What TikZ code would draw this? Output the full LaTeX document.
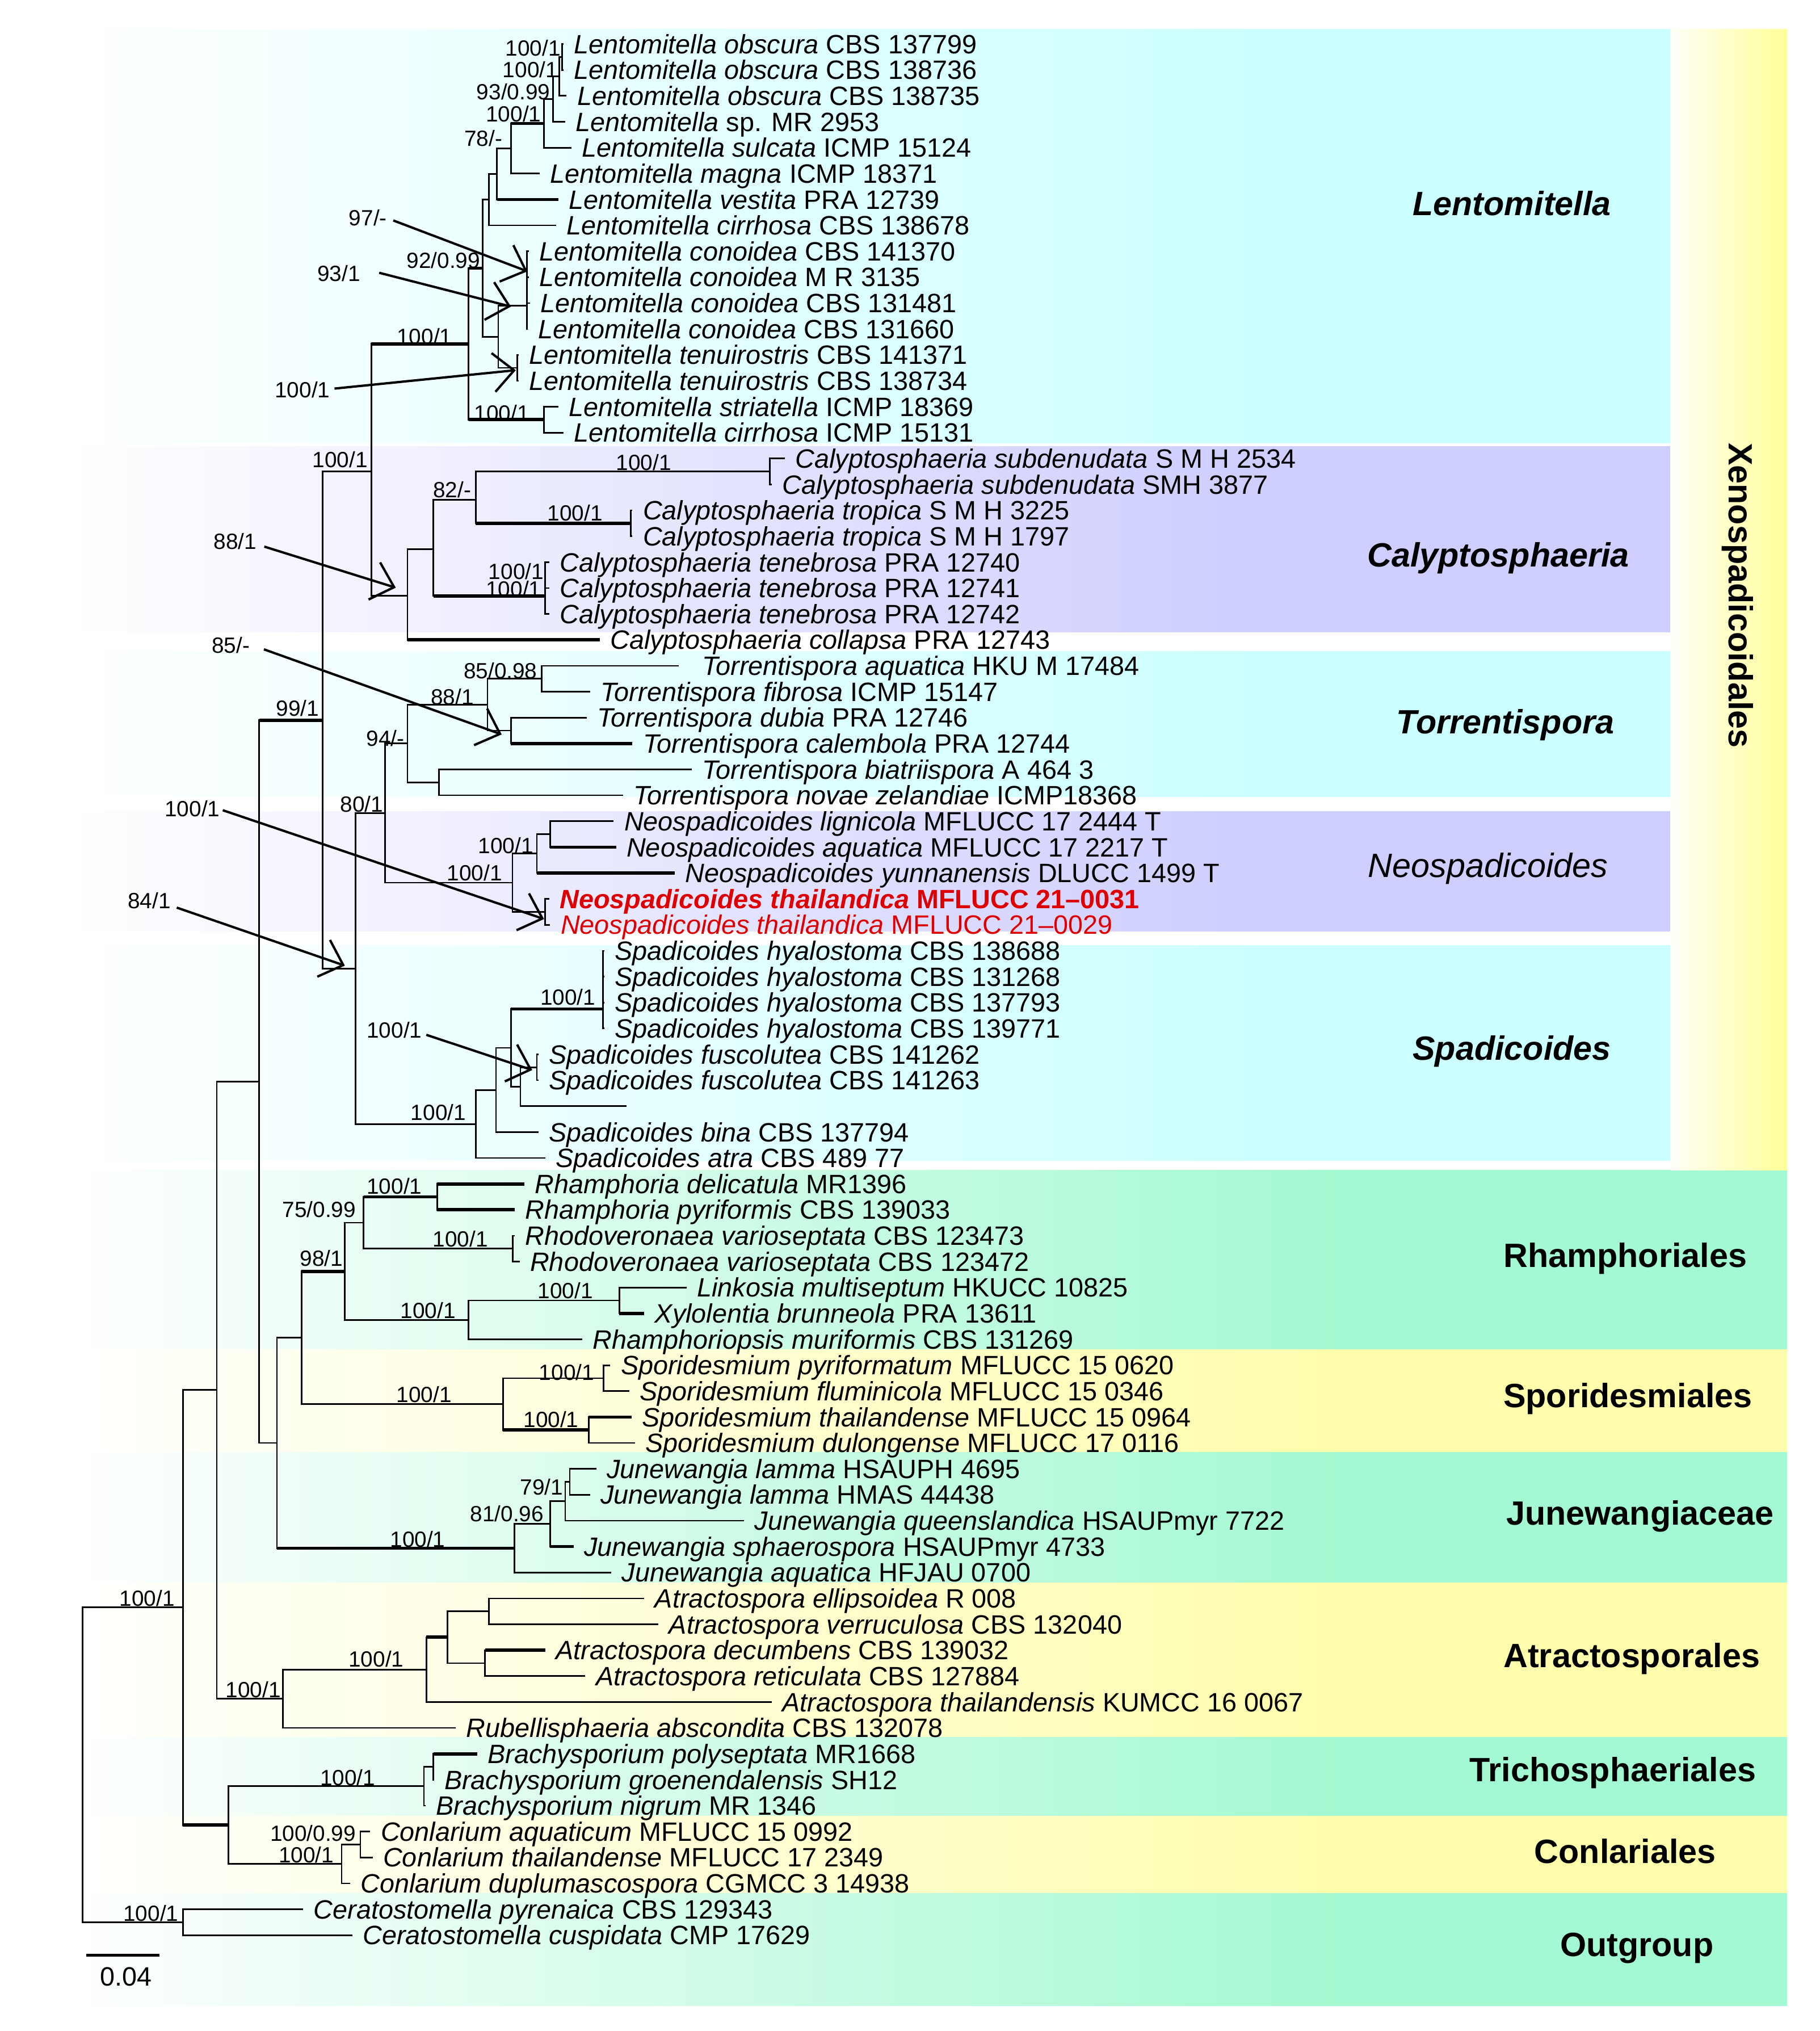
\documentclass[tikz,border=0pt]{standalone}
\usepackage{fontspec}
\setmainfont{Liberation Sans}
\usetikzlibrary{arrows.meta}
\definecolor{cyanb}{RGB}{204,255,255}
\definecolor{lavb}{RGB}{206,206,255}
\definecolor{greenb}{RGB}{163,249,209}
\definecolor{yelb}{RGB}{255,253,172}
\definecolor{xenob}{RGB}{255,255,153}
\definecolor{xenol}{RGB}{255,255,248}
\definecolor{redt}{RGB}{222,0,0}
\pgfdeclarehorizontalshading{cyansh}{100bp}{color(0bp)=(white); color(25bp)=(white); color(62bp)=(cyanb); color(100bp)=(cyanb)}
\pgfdeclarehorizontalshading{lavsh}{100bp}{color(0bp)=(white); color(25bp)=(white); color(62bp)=(lavb); color(100bp)=(lavb)}
\pgfdeclarehorizontalshading{greensh}{100bp}{color(0bp)=(white); color(25bp)=(white); color(62bp)=(greenb); color(100bp)=(greenb)}
\pgfdeclarehorizontalshading{yelsh}{100bp}{color(0bp)=(white); color(25bp)=(white); color(62bp)=(yelb); color(100bp)=(yelb)}
\newcommand{\bgband}[4]{\shade[shading=#4] (52,#1) rectangle (#3,#2);}
\begin{document}
\begin{tikzpicture}[x=1pt,y=-1pt,
  br/.style={line width=1.2pt},
  thk/.style={line width=2.5pt},
  taxon/.style={anchor=west, inner xsep=8pt, inner ysep=0pt, text height=15pt, text depth=0.4pt, font=\fontsize{20.5}{24}\selectfont},
  sup/.style={anchor=east, inner sep=0pt, text height=12pt, text depth=0pt, font=\fontsize{17}{20}\selectfont},
  clade/.style={inner sep=0pt, text height=19pt, text depth=0pt, font=\fontsize{26}{30}\selectfont\bfseries\itshape},
  cladeit/.style={inner sep=0pt, text height=19pt, text depth=0pt, font=\fontsize{26}{30}\selectfont\itshape},
  order/.style={inner sep=0pt, text height=19pt, text depth=0pt, font=\fontsize{26}{30}\selectfont\bfseries},
  arr/.style={line width=1.8pt, -{Straight Barb[length=16pt,width=30pt]}}
]
\useasboundingbox (0,0) rectangle (1405,1568);
\fill[white] (0,0) rectangle (1405,1568);
% ---------- background bands ----------
\bgband{22.7}{342}{1290}{cyansh}
\bgband{344.7}{488}{1290}{lavsh}
\bgband{503}{615}{1290}{cyansh}
\bgband{626.5}{718.7}{1290}{lavsh}
\bgband{730}{896}{1290}{cyansh}
\bgband{903.5}{1041.7}{1380}{greensh}
\bgband{1041.7}{1121}{1380}{yelsh}
\bgband{1121}{1222}{1380}{greensh}
\bgband{1222}{1341}{1380}{yelsh}
\bgband{1341}{1402}{1380}{greensh}
\bgband{1402}{1461.6}{1380}{yelsh}
\bgband{1461.6}{1548.5}{1380}{greensh}
\fill[left color=xenol, right color=xenob] (1290,22.7) rectangle (1380,903.5);

% ---------- taxa ----------
\node[taxon] (t1) at (435,34) {\textit{Lentomitella obscura} CBS 137799};
\node[taxon] (t2) at (435,54) {\textit{Lentomitella obscura} CBS 138736};
\node[taxon] (t3) at (437.5,74) {\textit{Lentomitella obscura} CBS 138735};
\node[taxon] (t4) at (436.4,94) {\textit{Lentomitella} sp. MR 2953};
\node[taxon] (t5) at (441.1,114) {\textit{Lentomitella sulcata} ICMP 15124};
\node[taxon] (t6) at (416.8,134) {\textit{Lentomitella magna} ICMP 18371};
\node[taxon] (t7) at (431.3,154) {\textit{Lentomitella vestita} PRA 12739};
\node[taxon] (t8) at (429.5,174) {\textit{Lentomitella cirrhosa} CBS 138678};
\node[taxon] (t9) at (408.4,194) {\textit{Lentomitella conoidea} CBS 141370};
\node[taxon] (t10) at (408.4,214) {\textit{Lentomitella conoidea} M R 3135};
\node[taxon] (t11) at (409.2,234) {\textit{Lentomitella conoidea} CBS 131481};
\node[taxon] (t12) at (407.3,254) {\textit{Lentomitella conoidea} CBS 131660};
\node[taxon] (t13) at (400.4,274) {\textit{Lentomitella tenuirostris} CBS 141371};
\node[taxon] (t14) at (400.4,294) {\textit{Lentomitella tenuirostris} CBS 138734};
\node[taxon] (t15) at (431.3,314) {\textit{Lentomitella striatella} ICMP 18369};
\node[taxon] (t16) at (435,334) {\textit{Lentomitella cirrhosa} ICMP 15131};
\node[taxon] (t17) at (606,354) {\textit{Calyptosphaeria subdenudata} S M H 2534};
\node[taxon] (t18) at (596,374) {\textit{Calyptosphaeria subdenudata} SMH 3877};
\node[taxon] (t19) at (488.4,394) {\textit{Calyptosphaeria tropica} S M H 3225};
\node[taxon] (t20) at (488.4,414) {\textit{Calyptosphaeria tropica} S M H 1797};
\node[taxon] (t21) at (424.1,434) {\textit{Calyptosphaeria tenebrosa} PRA 12740};
\node[taxon] (t22) at (424.1,454) {\textit{Calyptosphaeria tenebrosa} PRA 12741};
\node[taxon] (t23) at (424.1,474) {\textit{Calyptosphaeria tenebrosa} PRA 12742};
\node[taxon] (t24) at (463,494) {\textit{Calyptosphaeria collapsa} PRA 12743};
\node[taxon, inner xsep=18pt] (t25) at (524,514) {\textit{Torrentispora aquatica} HKU M 17484};
\node[taxon] (t26) at (455.7,534) {\textit{Torrentispora fibrosa} ICMP 15147};
\node[taxon] (t27) at (453,554) {\textit{Torrentispora dubia} PRA 12746};
\node[taxon] (t28) at (488.4,574) {\textit{Torrentispora calembola} PRA 12744};
\node[taxon] (t29) at (534,594) {\textit{Torrentispora biatriispora} A 464 3};
\node[taxon] (t30) at (481,614) {\textit{Torrentispora novae zelandiae} ICMP18368};
\node[taxon] (t31) at (473.9,634) {\textit{Neospadicoides lignicola} MFLUCC 17 2444 T};
\node[taxon] (t32) at (475.7,654) {\textit{Neospadicoides aquatica} MFLUCC 17 2217 T};
\node[taxon] (t33) at (521,674) {\textit{Neospadicoides yunnanensis} DLUCC 1499 T};
\node[taxon, text=redt] (t34) at (424,694) {\textbf{\textit{Neospadicoides thailandica} MFLUCC 21–0031}};
\node[taxon, text=redt] (t35) at (424.8,714) {\textit{Neospadicoides thailandica} MFLUCC 21–0029};
\node[taxon] (t36) at (466.6,734) {\textit{Spadicoides hyalostoma} CBS 138688};
\node[taxon] (t37) at (466.6,754) {\textit{Spadicoides hyalostoma} CBS 131268};
\node[taxon] (t38) at (466.6,774) {\textit{Spadicoides hyalostoma} CBS 137793};
\node[taxon] (t39) at (466.6,794) {\textit{Spadicoides hyalostoma} CBS 139771};
\node[taxon] (t40) at (415.7,814) {\textit{Spadicoides fuscolutea} CBS 141262};
\node[taxon] (t41) at (415.7,834) {\textit{Spadicoides fuscolutea} CBS 141263};
\node[taxon] (t42) at (483.7,854) {};
\node[taxon] (t43) at (415.7,874) {\textit{Spadicoides bina} CBS 137794};
\node[taxon] (t44) at (421,894) {\textit{Spadicoides atra} CBS 489 77};
\node[taxon] (t45) at (404.8,914) {\textit{Rhamphoria delicatula} MR1396};
\node[taxon] (t46) at (397.5,934) {\textit{Rhamphoria pyriformis} CBS 139033};
\node[taxon] (t47) at (397.5,954) {\textit{Rhodoveronaea varioseptata} CBS 123473};
\node[taxon] (t48) at (401.2,974) {\textit{Rhodoveronaea varioseptata} CBS 123472};
\node[taxon] (t49) at (530.2,994) {\textit{Linkosia multiseptum} HKUCC 10825};
\node[taxon] (t50) at (497.5,1014) {\textit{Xylolentia brunneola} PRA 13611};
\node[taxon] (t51) at (449.5,1034) {\textit{Rhamphoriopsis muriformis} CBS 131269};
\node[taxon] (t52) at (471.3,1054) {\textit{Sporidesmium pyriformatum} MFLUCC 15 0620};
\node[taxon] (t53) at (485.8,1074) {\textit{Sporidesmium fluminicola} MFLUCC 15 0346};
\node[taxon] (t54) at (487.7,1094) {\textit{Sporidesmium thailandense} MFLUCC 15 0964};
\node[taxon] (t55) at (490.2,1114) {\textit{Sporidesmium dulongense} MFLUCC 17 0116};
\node[taxon] (t56) at (460.4,1134) {\textit{Junewangia lamma} HSAUPH 4695};
\node[taxon] (t57) at (455.7,1154) {\textit{Junewangia lamma} HMAS 44438};
\node[taxon] (t58) at (574.5,1174) {\textit{Junewangia queenslandica} HSAUPmyr 7722};
\node[taxon] (t59) at (442.9,1194) {\textit{Junewangia sphaerospora} HSAUPmyr 4733};
\node[taxon] (t60) at (472,1214) {\textit{Junewangia aquatica} HFJAU 0700};
\node[taxon] (t61) at (497.5,1234) {\textit{Atractospora ellipsoidea} R 008};
\node[taxon] (t62) at (508.4,1254) {\textit{Atractospora verruculosa} CBS 132040};
\node[taxon] (t63) at (421.1,1274) {\textit{Atractospora decumbens} CBS 139032};
\node[taxon] (t64) at (452,1294) {\textit{Atractospora reticulata} CBS 127884};
\node[taxon] (t65) at (596,1314) {\textit{Atractospora thailandensis} KUMCC 16 0067};
\node[taxon] (t66) at (352,1334) {\textit{Rubellisphaeria abscondita} CBS 132078};
\node[taxon] (t67) at (368.4,1354) {\textit{Brachysporium polyseptata} MR1668};
\node[taxon] (t68) at (335,1374) {\textit{Brachysporium groenendalensis} SH12};
\node[taxon] (t69) at (328.5,1394) {\textit{Brachysporium nigrum} MR 1346};
\node[taxon] (t70) at (285.9,1414) {\textit{Conlarium aquaticum} MFLUCC 15 0992};
\node[taxon] (t71) at (287.7,1434) {\textit{Conlarium thailandense} MFLUCC 17 2349};
\node[taxon] (t72) at (270.3,1454) {\textit{Conlarium duplumascospora} CGMCC 3 14938};
\node[taxon] (t73) at (234,1474) {\textit{Ceratostomella pyrenaica} CBS 129343};
\node[taxon] (t74) at (272.1,1494) {\textit{Ceratostomella cuspidata} CMP 17629};

% ---------- internal nodes ----------
\coordinate (Lo12) at (434,44);
\coordinate (Lo123) at (432,59);
\coordinate (Lo1234) at (427,76.5);
\coordinate (Lsul) at (420,95.3);
\coordinate (L78) at (394.6,114.6);
\coordinate (L935) at (383.7,134.3);
\coordinate (L918) at (377.5,154.2);
\coordinate (Lcon) at (407,236);
\coordinate (Lten) at (399.3,284);
\coordinate (L938) at (384.8,260);
\coordinate (L905) at (372.8,207);
\coordinate (Lstr) at (420,324);
\coordinate (L875) at (361.9,265.5);
\coordinate (Csub) at (594.5,364);
\coordinate (Ctro) at (487,404);
\coordinate (C82) at (367.4,386);
\coordinate (Cten) at (421,460);
\coordinate (C800) at (334.6,424);
\coordinate (Ccal) at (314.6,460);
\coordinate (X288) at (286.7,364);
\coordinate (T85) at (418.3,524);
\coordinate (Tdc) at (394.6,564);
\coordinate (T88) at (376.4,544);
\coordinate (Tbn) at (339,604);
\coordinate (T94) at (314.6,574);
\coordinate (Nla) at (424.8,644);
\coordinate (N100a) at (414.6,659);
\coordinate (Nth) at (421,704);
\coordinate (Nneo) at (395.7,681.5);
\coordinate (N80) at (297.2,627.8);
\coordinate (Shy) at (465.5,779);
\coordinate (Sfu) at (414.6,824);
\coordinate (S985) at (401.9,839);
\coordinate (S965) at (394.6,809);
\coordinate (S933) at (383,841.5);
\coordinate (Sspa) at (367.4,867.8);
\coordinate (N274) at (274.7,747.8);
\coordinate (X249) at (249.2,556);
\coordinate (Rrh) at (337.5,924);
\coordinate (Rrd) at (396,964);
\coordinate (R75) at (280.8,944);
\coordinate (Rlx) at (478.2,1004);
\coordinate (Rlk) at (361.9,1019);
\coordinate (R98) at (266.3,981.5);
\coordinate (Sp1) at (466.2,1064);
\coordinate (Sp2) at (454.6,1104);
\coordinate (Sp) at (388.4,1084);
\coordinate (X233) at (232.9,1032.8);
\coordinate (Jla) at (440,1144);
\coordinate (J79) at (436.5,1159);
\coordinate (J81) at (424.8,1176.5);
\coordinate (Jun) at (397.2,1195.3);
\coordinate (X214) at (213.9,1114);
\coordinate (X200) at (200.1,835);
\coordinate (Ae) at (377.5,1244);
\coordinate (Ad) at (374.6,1284);
\coordinate (A830) at (345.5,1264);
\coordinate (Aat) at (329.2,1289);
\coordinate (A218) at (218.3,1311.5);
\coordinate (X167) at (167.4,1073);
\coordinate (B1) at (334.6,1364);
\coordinate (B2) at (327.4,1379);
\coordinate (Co1) at (278.3,1424);
\coordinate (Co) at (263.8,1439);
\coordinate (X176) at (176.5,1409);
\coordinate (X141) at (141.3,1241);
\coordinate (Og) at (141.3,1484);
\coordinate (Root) at (63.8,1362.5);

% ---------- branches to leaves ----------
\foreach \p/\c in {Lo12/t1,Lo12/t2,Lo123/t3,Lo1234/t4,Lsul/t5,L78/t6,L918/t8,
  Lcon/t9,Lcon/t10,Lcon/t11,Lcon/t12,Lten/t13,Lten/t14,Lstr/t15,Lstr/t16,
  Csub/t17,Csub/t18,Ctro/t19,Ctro/t20,Cten/t21,Cten/t22,Cten/t23,
  T85/t25,T85/t26,Tdc/t27,Tbn/t29,Tbn/t30,
  Nla/t31,Nth/t34,Nth/t35,
  Shy/t36,Shy/t37,Shy/t38,Shy/t39,Sfu/t40,Sfu/t41,S985/t42,S933/t43,Sspa/t44,
  Rrd/t47,Rrd/t48,Rlx/t49,Rlk/t51,Sp1/t52,Sp1/t53,Sp2/t55,
  Jla/t56,Jla/t57,J79/t58,Jun/t60,
  Ae/t61,Ae/t62,Ad/t64,Aat/t65,A218/t66,B1/t68,B2/t69,
  Co1/t70,Co1/t71,Co/t72,Og/t73,Og/t74}
  {\draw[br] (\p) |- (\c.west);}
% thick leaf branches
\foreach \p/\c in {L935/t7,Ccal/t24,Tdc/t28,Nla/t32,N100a/t33,Rrh/t45,Rrh/t46,
  Rlx/t50,Sp2/t54,J81/t59,Ad/t63,B1/t67}
  {\draw[br] (\p) |- (\c.west); \draw[thk] (\p |- \c.west) -- (\c.west);}
% ---------- internal branches ----------
\foreach \p/\c in {Lo123/Lo12,Lo1234/Lo123,Lsul/Lo1234,L935/L78,L918/L935,
  L938/Lcon,L938/Lten,L905/L918,L905/L938,X288/Ccal,
  C82/Csub,C800/C82,Ccal/C800,
  T88/T85,T88/Tdc,T94/T88,T94/Tbn,N80/T94,N80/Nneo,
  N100a/Nla,Nneo/N100a,Nneo/Nth,N274/N80,N274/Sspa,
  S985/Sfu,S965/S985,S933/S965,Sspa/S933,X249/X288,X249/N274,
  R75/Rrd,R98/R75,R98/Rlk,Rlk/Rlx,Sp/Sp1,X233/Sp,X214/X233,
  J79/Jla,J81/J79,Jun/J81,X200/X214,
  A830/Ae,A830/Ad,A218/Aat,X167/X200,X167/A218,
  B2/B1,Co/Co1,X176/B2,X176/Co,X141/X167,Root/X141,Root/Og}
  {\draw[br] (\p) |- (\c);}
% thick internal branches
\foreach \p/\c in {L78/Lsul,X288/L875,L875/L905,L875/Lstr,C82/Ctro,C800/Cten,
  X200/X249,S965/Shy,R75/Rrh,X233/R98,Sp/Sp2,X214/Jun,Aat/A830,X141/X176}
  {\draw[br] (\p) |- (\c); \draw[thk] (\p |- \c) -- (\c);}

% ---------- support values ----------
\node[sup] (s1) at (433,37) {100/1};
\node[sup] (s2) at (431,54) {100/1};
\node[sup] (s3) at (425,71) {93/0.99};
\node[sup] (s4) at (418,88) {100/1};
\node[sup] (s5) at (388,107) {78/-};
\node[sup] (s6) at (299,168) {97/-};
\node[sup] (s7) at (278.3,211) {93/1};
\node[sup] (s8) at (371,201) {92/0.99};
\node[sup] (s9) at (349.2,260) {100/1};
\node[sup] (s10) at (255,301) {100/1};
\node[sup] (s11) at (409,319) {100/1};
\node[sup] (s12) at (284,355) {100/1};
\node[sup] (s13) at (518.5,357) {100/1};
\node[sup] (s14) at (364,378) {82/-};
\node[sup] (s15) at (465.5,396) {100/1};
\node[sup] (s16) at (420,441) {100/1};
\node[sup] (s17) at (418,455) {100/1};
\node[sup] (s18) at (198.3,418) {88/1};
\node[sup] (s19) at (193,498) {85/-};
\node[sup] (s20) at (246.5,547) {99/1};
\node[sup] (s21) at (415,518) {85/0.98};
\node[sup] (s22) at (366,538) {88/1};
\node[sup] (s23) at (312.5,570) {94/-};
\node[sup] (s24) at (296,621) {80/1};
\node[sup] (s25) at (412,653) {100/1};
\node[sup] (s26) at (388,674) {100/1};
\node[sup] (s27) at (170,624.5) {100/1};
\node[sup] (s28) at (132,695.5) {84/1};
\node[sup] (s29) at (460,770) {100/1};
\node[sup] (s30) at (326,795.5) {100/1};
\node[sup] (s31) at (360,859) {100/1};
\node[sup] (s32) at (326,916) {100/1};
\node[sup] (s33) at (275,934) {75/0.99};
\node[sup] (s34) at (377,956.5) {100/1};
\node[sup] (s35) at (265,971.5) {98/1};
\node[sup] (s36) at (458,996.5) {100/1};
\node[sup] (s37) at (352,1012) {100/1};
\node[sup] (s38) at (459,1059.5) {100/1};
\node[sup] (s39) at (349,1076.5) {100/1};
\node[sup] (s40) at (447,1096) {100/1};
\node[sup] (s41) at (435,1148) {79/1};
\node[sup] (s42) at (420,1168.5) {81/0.96};
\node[sup] (s43) at (344,1188.5) {100/1};
\node[sup] (s44) at (312,1281) {100/1};
\node[sup] (s45) at (217,1304.5) {100/1};
\node[sup] (s46) at (135,1234) {100/1};
\node[sup] (s47) at (290,1372.5) {100/1};
\node[sup] (s48) at (275,1415.5) {100/0.99};
\node[sup] (s49) at (258,1432) {100/1};
\node[sup] (s50) at (138,1477) {100/1};

% ---------- pointer arrows ----------
\coordinate (a1s) at (303.7,170.2); \coordinate (a1e) at (407.3,209.5);
\coordinate (a2s) at (292.8,210.6); \coordinate (a2e) at (394.6,236.7);
\coordinate (a3s) at (258.3,300);   \coordinate (a3e) at (398.3,285.8);
\coordinate (a4s) at (204.1,422);   \coordinate (a4e) at (305.6,453.7);
\coordinate (a5s) at (203.8,501.3); \coordinate (a5e) at (387.4,567);
\coordinate (a6s) at (172,625.5);   \coordinate (a6e) at (420.1,709.5);
\coordinate (a7s) at (136.5,700.7); \coordinate (a7e) at (266.3,745.5);
\coordinate (a8s) at (329.2,798.9); \coordinate (a8e) at (411,826.1);
\foreach \i in {1,...,8} {\draw[arr] (a\i s) -- (a\i e);}

% ---------- clade labels ----------
\node[clade] (cl1) at (1167.5,157) {Lentomitella};
\node[clade] (cl2) at (1157,428) {Calyptosphaeria};
\node[clade] (cl3) at (1162.5,557) {Torrentispora};
\node[cladeit] (cl4) at (1149,668) {Neospadicoides};
\node[clade] (cl5) at (1167.5,809) {Spadicoides};
\node[order] (o1) at (1255,969) {Rhamphoriales};
\node[order] (o2) at (1257,1077) {Sporidesmiales};
\node[order] (o3) at (1266.5,1168) {Junewangiaceae};
\node[order] (o4) at (1260,1278) {Atractosporales};
\node[order] (o5) at (1245.5,1366) {Trichosphaeriales};
\node[order] (o6) at (1255,1429) {Conlariales};
\node[order] (o7) at (1264,1501) {Outgroup};
\node[order, rotate=-90] (xeno) at (1344.6,459.6) {Xenospadicoidales};

% ---------- scale bar ----------
\coordinate (sb1) at (66.4,1509.5); \coordinate (sb2) at (123.1,1509.5);
\draw[line width=2pt] (sb1) -- (sb2);
\node[inner sep=0pt, text height=15pt, text depth=0pt, font=\fontsize{20.5}{24}\selectfont] (sbl) at (97.5,1525.5) {0.04};
\end{tikzpicture}
\end{document}
